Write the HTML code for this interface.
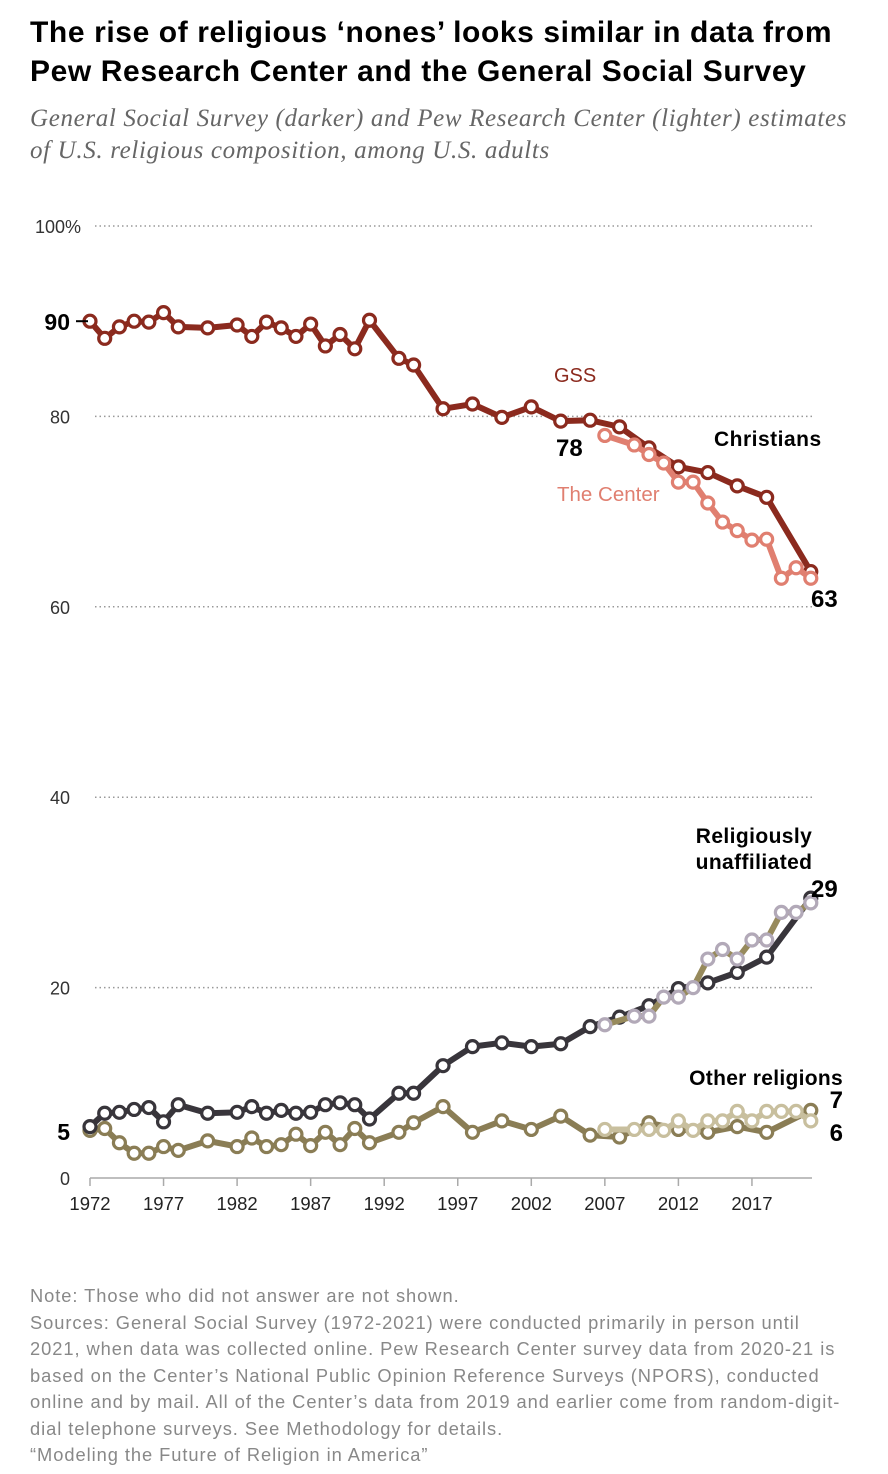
<!DOCTYPE html>
<html><head><meta charset="utf-8"><style>
body{margin:0;background:#fff;width:888px;height:1474px;overflow:hidden;font-family:"Liberation Sans",sans-serif}
#title{position:absolute;left:30px;top:13px;font-size:30px;font-weight:bold;line-height:39px;color:#000;letter-spacing:0.6px;white-space:nowrap}
#sub{position:absolute;left:30px;top:103px;font-family:"Liberation Serif",serif;font-style:italic;font-size:25px;line-height:32px;color:#666;letter-spacing:0.65px;white-space:nowrap}
#notes{position:absolute;left:30px;top:1283px;font-size:18.3px;line-height:26.5px;color:#888;white-space:nowrap;letter-spacing:0.95px}
svg{position:absolute;left:0;top:0}
</style></head><body>
<div id="title">The rise of religious ‘nones’ looks similar in data from<br>Pew Research Center and the General Social Survey</div>
<div id="sub">General Social Survey (darker) and Pew Research Center (lighter) estimates<br>of U.S. religious composition, among U.S. adults</div>
<svg id="chart" width="888" height="1474"></svg>
<div id="notes">Note: Those who did not answer are not shown.<br>Sources: General Social Survey (1972-2021) were conducted primarily in person until<br>2021, when data was collected online. Pew Research Center survey data from 2020-21 is<br>based on the Center’s National Public Opinion Reference Surveys (NPORS), conducted<br>online and by mail. All of the Center’s data from 2019 and earlier come from random-digit-<br>dial telephone surveys. See Methodology for details.<br>“Modeling the Future of Religion in America”</div>
<script>
const gssYears=[1972,1973,1974,1975,1976,1977,1978,1980,1982,1983,1984,1985,1986,1987,1988,1989,1990,1991,1993,1994,1996,1998,2000,2002,2004,2006,2008,2010,2012,2014,2016,2018,2021];
const pewYears=[2007,2009,2010,2011,2012,2013,2014,2015,2016,2017,2018,2019,2020,2021];
const gssChristian=[90,88.2,89.4,90,89.9,90.9,89.4,89.3,89.6,88.4,89.9,89.3,88.4,89.7,87.4,88.6,87.1,90.1,86.1,85.4,80.8,81.3,79.9,81,79.5,79.6,78.9,76.7,74.7,74.1,72.7,71.5,63.7];
const pewChristian=[78,77,76,75.1,73.1,73.1,70.9,68.9,68,67,67.1,63,64.1,63];
const gssNone=[5.4,6.8,6.9,7.2,7.4,5.9,7.7,6.8,6.9,7.5,6.8,7.1,6.8,6.9,7.7,7.9,7.7,6.2,8.9,8.9,11.8,13.8,14.2,13.8,14.1,15.9,16.9,18.1,19.9,20.5,21.6,23.2,29.4];
const pewNone=[16.1,17,17,19,19,20,23,24,23,25,25,27.9,27.9,28.9];
const gssOther=[5,5.2,3.7,2.6,2.6,3.3,2.9,3.9,3.3,4.2,3.3,3.5,4.6,3.4,4.8,3.5,5.2,3.7,4.8,5.8,7.5,4.8,6,5.1,6.5,4.5,4.3,5.8,5.1,4.8,5.4,4.8,7.1];
const pewOther=[5.1,5.1,5.1,5,6,5,6,6,7,6,7,7,7,6];
const yTicks=[100,80,60,40,20];
const xTicks=[1972,1977,1982,1987,1992,1997,2002,2007,2012,2017];

const NS='http://www.w3.org/2000/svg';
const svg=document.getElementById('chart');
const X=yr=>90+(yr-1972)*14.71;
const Y=v=>1178-v*9.52;
function mk(tag,attrs,txt){const e=document.createElementNS(NS,tag);for(const k in attrs)e.setAttribute(k,attrs[k]);if(txt!==undefined)e.textContent=txt;svg.appendChild(e);return e;}

yTicks.forEach(t=>{
  const g=mk('line',{x1:95,x2:812,y1:Y(t),y2:Y(t),stroke:'#999','stroke-width':1.5,'stroke-dasharray':'1.5 3'});
  
  
  const l=mk('text',{x:t===100?35:70,y:Y(t)+7,'font-size':18,fill:'#333','text-anchor':t===100?'start':'end','font-family':'Liberation Sans'},t===100?'100%':String(t));
  
  
});
const z=mk('text',{x:70,y:1185,'font-size':18,fill:'#333','text-anchor':'end'},'0');


const ax=mk('line',{x1:90,x2:812,y1:1178,y2:1178,stroke:'#aaa','stroke-width':1.5});


xTicks.forEach(t=>{
  const tk=mk('line',{x1:X(t),x2:X(t),y1:1178,y2:1186,stroke:'#aaa','stroke-width':1.5});
  
  
  const l=mk('text',{x:X(t),y:1210,'font-size':18.5,fill:'#222','text-anchor':'middle'},String(t));
  
  
});

function series(name,years,vals,line,mark){
  const pts=years.map((y,i)=>X(y)+','+Y(vals[i])).join(' ');
  const pl=mk('polyline',{points:pts,fill:'none',stroke:line,'stroke-width':6,'stroke-linejoin':'round'});
  
  
  years.forEach((y,i)=>{
    const c=mk('circle',{cx:X(y),cy:Y(vals[i]),r:6,fill:'#fff',stroke:mark,'stroke-width':3.2});
    
    
  });
}
series('gss-christian',gssYears,gssChristian,'#8b2a1e','#8b2a1e');
series('pew-christian',pewYears,pewChristian,'#e07f70','#e07f70');
series('gss-other',gssYears,gssOther,'#8a7d55','#8a7d55');
series('pew-other',pewYears,pewOther,'#c8bf9e','#c8bf9e');
series('gss-unaffiliated',gssYears,gssNone,'#38353b','#38353b');
series('pew-unaffiliated',pewYears,pewNone,'#978a5c','#b2a9b8');

function lab(name,x,y,t,opts){const e=mk('text',Object.assign({x:x,y:y,'font-size':20,'font-weight':'bold',fill:'#000'},opts||{}),t);
  
  }
const tk90=mk('line',{x1:76,x2:88,y1:Y(90),y2:Y(90),stroke:'#000','stroke-width':2});


lab('value-90',70,330,'90',{'text-anchor':'end','font-size':23});
lab('value-5',70,1140,'5',{'text-anchor':'end','font-size':23});
lab('label-gss',554,382,'GSS',{'font-weight':'normal',fill:'#8b2a1e','font-size':20});
lab('label-the-center',557,501,'The Center',{'font-weight':'normal',fill:'#e07f70','font-size':20.5});
lab('value-78',556,456,'78',{'font-size':24});
lab('label-christians',714,446,'Christians',{'font-size':21,'letter-spacing':'0.5'});
lab('value-63',811,607,'63',{'font-size':24});
lab('label-unaffiliated-1',754,843,'Religiously',{'text-anchor':'middle','font-size':21,'letter-spacing':'0.4'});
lab('label-unaffiliated-2',754,869,'unaffiliated',{'text-anchor':'middle','font-size':21,'letter-spacing':'0.4'});
lab('value-29',811,897,'29',{'font-size':24});
lab('label-other-religions',843,1085,'Other religions',{'text-anchor':'end','font-size':21,'letter-spacing':'0.3'});
lab('value-7',843,1108,'7',{'text-anchor':'end','font-size':24});
lab('value-6',843,1141,'6',{'text-anchor':'end','font-size':24});
</script>
</body></html>
